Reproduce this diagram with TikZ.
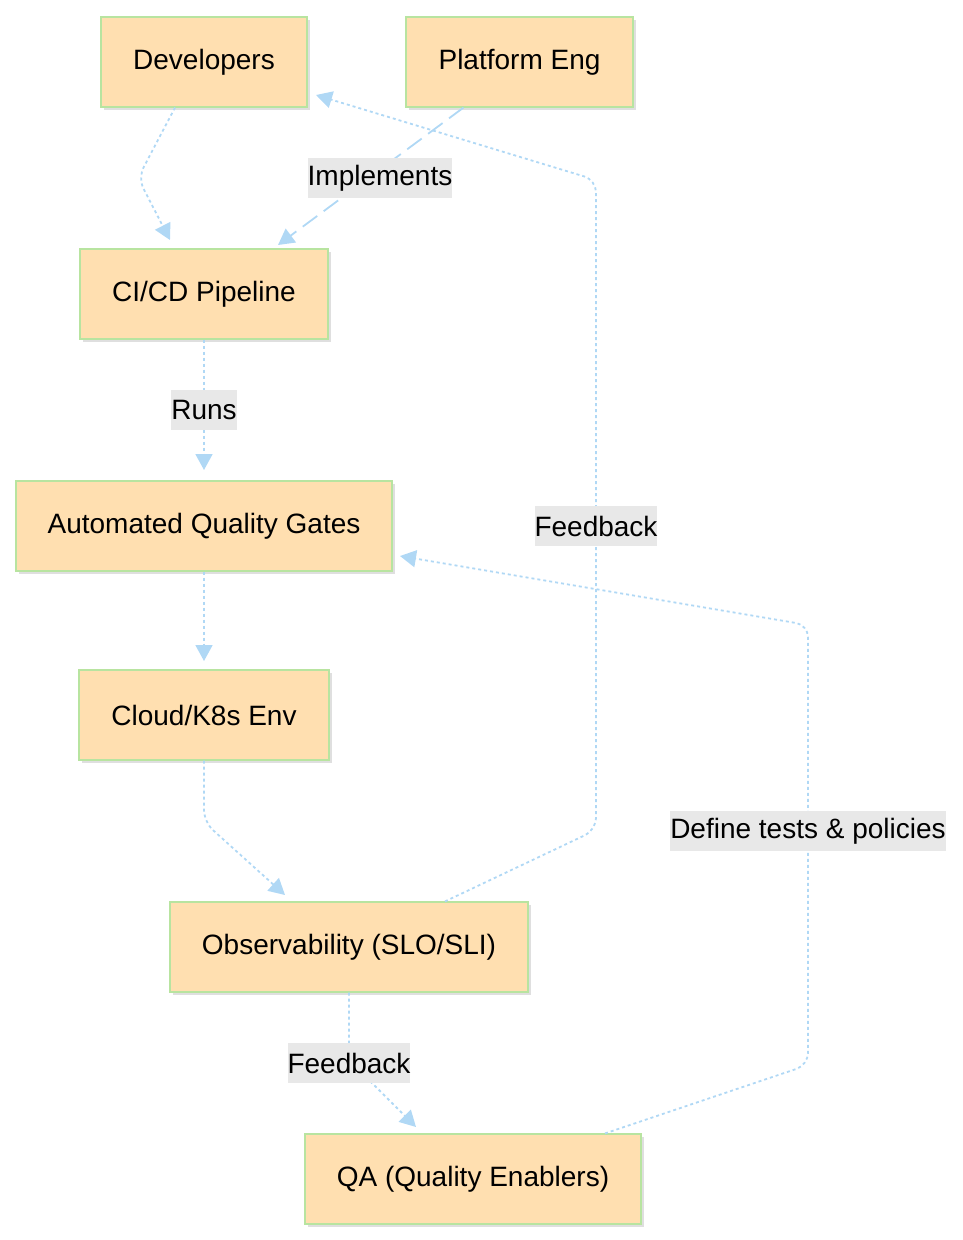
\documentclass[tikz,border=0pt]{standalone}
\usepackage{fontspec}
\setmainfont{Liberation Sans}
\usetikzlibrary{arrows.meta,shadows}
\definecolor{boxfill}{HTML}{FFDFB0}
\definecolor{boxline}{HTML}{B8E4A0}
\definecolor{edge}{HTML}{B0D8F5}
\definecolor{lblbg}{HTML}{E8E8E8}
\begin{document}
\begin{tikzpicture}[x=1pt,y=-1pt,
  box/.style={draw=boxline,fill=boxfill,line width=1.2pt,minimum height=90pt,inner sep=0pt,
    font=\fontsize{28pt}{32pt}\selectfont,drop shadow={opacity=0.25,shadow xshift=3pt,shadow yshift=-3pt}},
  e/.style={draw=edge,line width=1.8pt,dash pattern=on 3pt off 3pt,rounded corners=12pt,-{Triangle[length=16pt,width=17pt]}},
  lbl/.style={fill=lblbg,font=\fontsize{28pt}{32pt}\selectfont,inner sep=0pt,minimum height=40pt,text=black}]
\useasboundingbox (0,0) rectangle (963,1240);
\node[box,minimum width=206pt] (dev) at (204,62) {Developers};
\node[box,minimum width=227pt] (pe) at (519.5,62) {Platform Eng};
\node[box,minimum width=248pt] (ci) at (204,294) {CI/CD Pipeline};
\node[box,minimum width=376pt] (aqg) at (204,526) {Automated Quality Gates};
\node[box,minimum width=250pt] (k8s) at (204,715) {Cloud/K8s Env};
\node[box,minimum width=358pt] (obs) at (349,947) {Observability (SLO/SLI)};
\node[box,minimum width=336pt] (qa) at (473,1179) {QA (Quality Enablers)};
\coordinate (c1) at (138,178);
\coordinate (c2) at (204,822);
\coordinate (c3) at (596,830);
\coordinate (c4) at (596,180);
\coordinate (c5) at (349,1060);
\coordinate (c6) at (808,1065);
\coordinate (c7) at (808,625);
\draw[e] (dev.south)++(-29,0) -- (c1) -- (170,240);
\draw[e,dash pattern=on 18pt off 8pt] (pe.south)++(-56,0) -- (278,245);
\node[lbl] at (380,178) {Implements};
\draw[e] (ci) -- (204,470);
\node[lbl] at (204,410) {Runs};
\draw[e] (aqg) -- (204,661);
\draw[e] (k8s.south) -- (c2) -- (285,895);
\draw[e] (obs.north)++(96,0) -- (c3) -- (c4) -- (316,95);
\node[lbl] at (596,526) {Feedback};
\draw[e] (obs.south) -- (c5) -- (416,1127);
\node[lbl] at (349,1063) {Feedback};
\draw[e] (qa.north)++(132,0) -- (c6) -- (c7) -- (400,556);
\node[lbl] at (808,831) {Define tests \& policies};
\end{tikzpicture}
\end{document}
